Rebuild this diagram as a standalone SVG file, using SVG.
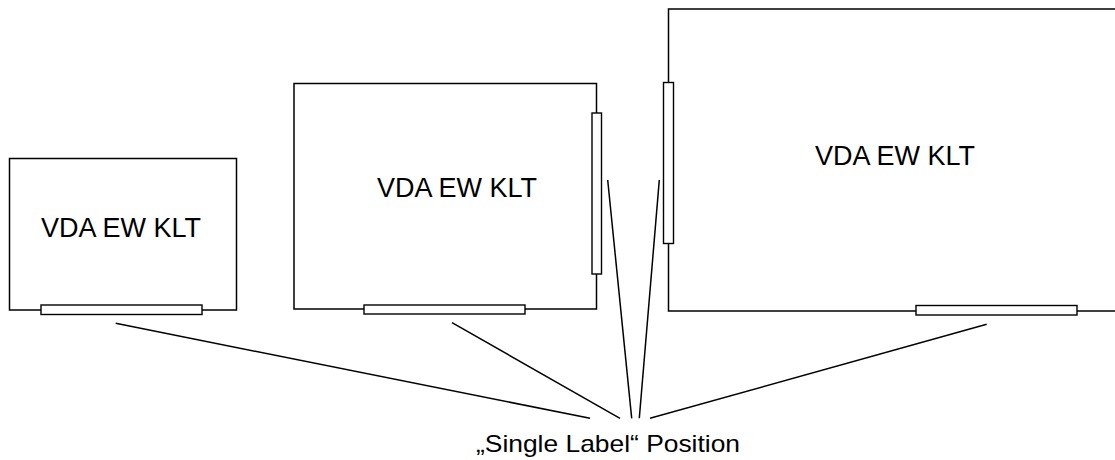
<svg xmlns="http://www.w3.org/2000/svg" width="1115" height="460" viewBox="0 0 1115 460">
  <style>
    .box { fill: #fff; stroke: #000; stroke-width: 1.5; }
    .lbl { fill: #fff; stroke: #000; stroke-width: 1.4; }
    .conn line { stroke: #000; stroke-width: 1.5; }
    .t { font-family: "Liberation Sans", Arial, sans-serif; font-size: 27px; fill: #000; text-anchor: middle; }
    .b { font-family: "Liberation Sans", Arial, sans-serif; font-size: 24px; fill: #000; }
  </style>
  <rect width="1115" height="460" fill="#fff"/>
  <g id="box1">
    <rect class="box" x="9.5" y="158.5" width="227" height="151.5"/>
    <rect class="lbl" x="41" y="305" width="161" height="9.5"/>
    <text class="t" x="121" y="237">VDA EW KLT</text>
  </g>
  <g id="box2">
    <rect class="box" x="294" y="83.5" width="302.5" height="225.5"/>
    <rect class="lbl" x="364" y="305" width="161" height="9"/>
    <rect class="lbl" x="592" y="113" width="9.5" height="161"/>
    <text class="t" x="457" y="197">VDA EW KLT</text>
  </g>
  <g id="box3">
    <rect class="box" x="668.5" y="9" width="460" height="302"/>
    <rect class="lbl" x="916" y="305.5" width="161" height="9.5"/>
    <rect class="lbl" x="663.5" y="82.5" width="10" height="161"/>
    <text class="t" x="895" y="165">VDA EW KLT</text>
  </g>
  <g id="connectors" class="conn">
    <line x1="115.7" y1="323.3" x2="590" y2="418.3"/>
    <line x1="452" y1="322.7" x2="620" y2="418.3"/>
    <line x1="607.7" y1="180" x2="631.7" y2="418.3"/>
    <line x1="659.3" y1="180" x2="639.3" y2="418.3"/>
    <line x1="986.7" y1="324.3" x2="650" y2="418.3"/>
  </g>
  <g id="caption">
    <text class="b" x="476" y="452" textLength="264" lengthAdjust="spacingAndGlyphs">„Single Label“ Position</text>
  </g>
</svg>
